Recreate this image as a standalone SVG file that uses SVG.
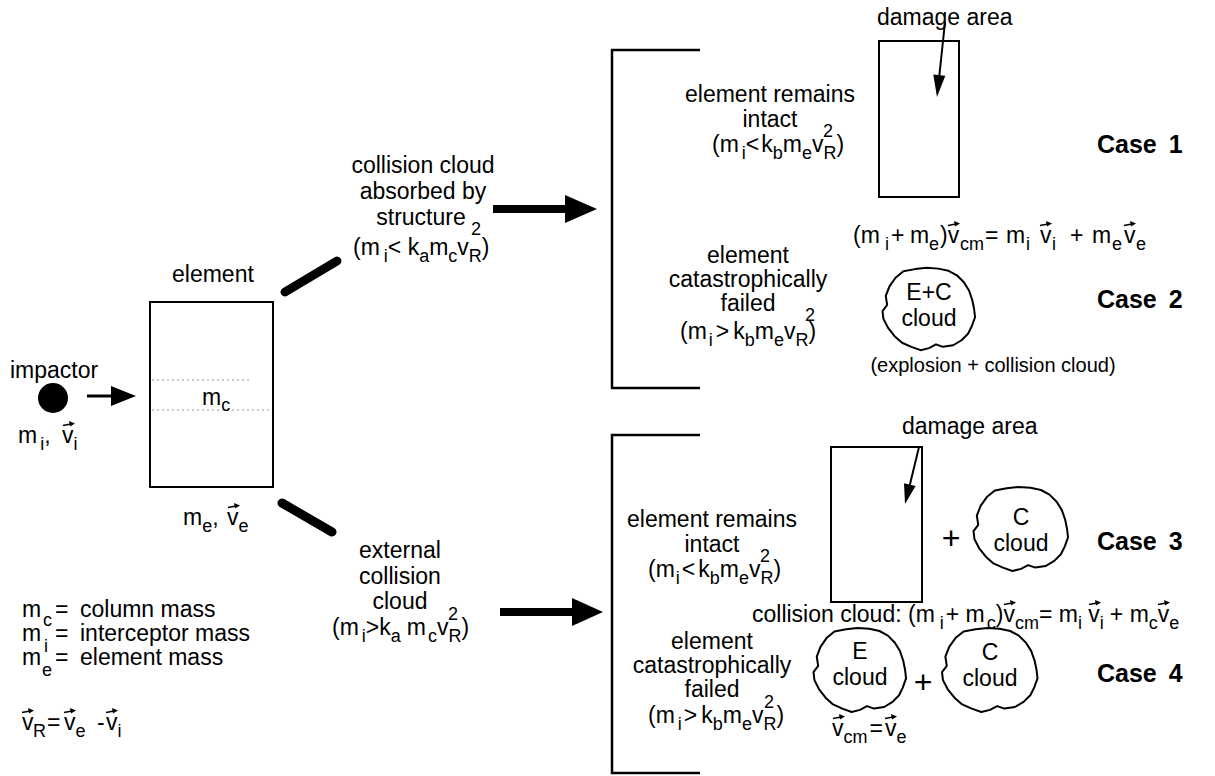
<svg xmlns="http://www.w3.org/2000/svg" xmlns:xlink="http://www.w3.org/1999/xlink" width="1215" height="776" viewBox="0 0 1215 776">
<style>
.t{font-family:"Liberation Sans",Arial,Helvetica,sans-serif;font-size:23px;fill:#000}
.c{text-anchor:middle}
.s{font-size:18px}
.b{font-weight:bold;font-size:25px;word-spacing:5px}
.sm{font-size:20px}
.pl{font-size:32px}
.ln{stroke:#000;stroke-width:2;fill:none}
.br{stroke:#000;stroke-width:2.5;fill:none}
.bar{stroke:#000;stroke-width:9;stroke-linecap:round}
.dot{stroke:#999;stroke-width:1;stroke-dasharray:2 3}
.cl{fill:none;stroke:#000;stroke-width:2;stroke-linejoin:round}
</style>
<defs>
<g id="vec"><path d="M0,0.5 L8,-1" stroke="#000" stroke-width="1.6" fill="none"/><path d="M6,-4 L12,-1.5 L7,1.5 Z" fill="#000"/></g>
<path id="cloud" class="cl" vector-effect="non-scaling-stroke" d="M-27.5,-38.6 L-15,-40.7 L-2.5,-42 L10,-41.2 L21,-39 L30,-34.4 L37.5,-27.3 L43,-18.9 L46.5,-9.2 L48.5,0 L49.5,8.4 L46,17.6 L42,25.2 L35,31.9 L26,37 L15,38.6 L7.5,36.1 L0,39.9 L-9,42 L-19,38.6 L-29,34.4 L-37,27.7 L-44,19.3 L-49,10.1 L-50,2.1 L-45,-4.2 L-46.5,-13.4 L-42.5,-23.1 L-36,-31.9 Z"/>
</defs>
<rect width="1215" height="776" fill="#fff"/>

<g id="connectors">
<line class="bar" x1="285" y1="292" x2="337" y2="261"/>
<line class="bar" x1="282" y1="503" x2="332" y2="532"/>
<line x1="87" y1="396" x2="113" y2="396" stroke="#000" stroke-width="3"/>
<path d="M111,386 L136,396 L111,406 Z" fill="#000"/>
<line x1="493" y1="209" x2="567" y2="209" stroke="#000" stroke-width="8"/>
<path d="M565,195 L597,209 L565,223 Z" fill="#000"/>
<line x1="500" y1="612" x2="574" y2="612" stroke="#000" stroke-width="8"/>
<path d="M572,598 L603,612 L572,626 Z" fill="#000"/>
</g>

<g id="impactor">
<text class="t" x="10" y="378">impactor</text>
<circle cx="53" cy="398" r="15" fill="#000"/>
<text class="t" x="18" y="443">m<tspan class="s" dx="3" dy="7">i</tspan><tspan dy="-7">,</tspan><tspan x="62">v</tspan><tspan class="s" dy="7">i</tspan></text>
<use xlink:href="#vec" x="63" y="425"/>
</g>

<g id="element">
<text class="t" x="172" y="282">element</text>
<rect class="ln" x="150" y="302" width="123" height="185"/>
<line class="dot" x1="152" y1="380" x2="250" y2="380"/>
<line class="dot" x1="152" y1="410" x2="271" y2="410"/>
<text class="t" x="202" y="405">m<tspan class="s" dy="6">c</tspan></text>
<text class="t" x="183" y="525">m<tspan class="s" dy="7">e</tspan><tspan dy="-7">,</tspan><tspan x="227">v</tspan><tspan class="s" dy="7">e</tspan></text>
<use xlink:href="#vec" x="228" y="507"/>
</g>

<g id="legend">
<text class="t" x="22" y="617">m<tspan class="s" x="43" dy="9">c</tspan><tspan x="55" dy="-9">=</tspan><tspan x="80">column mass</tspan></text>
<text class="t" x="22" y="641">m<tspan class="s" x="44" dy="11">i</tspan><tspan x="55" dy="-11">=</tspan><tspan x="80">interceptor mass</tspan></text>
<text class="t" x="22" y="665">m<tspan class="s" x="42" dy="11">e</tspan><tspan x="55" dy="-11">=</tspan><tspan x="80">element mass</tspan></text>
<text class="t" x="22" y="730">v<tspan class="s" x="33" dy="7">R</tspan><tspan x="47" dy="-7">=</tspan><tspan x="64">v</tspan><tspan class="s" dy="7">e</tspan><tspan x="97" dy="-7">-</tspan><tspan x="106">v</tspan><tspan class="s" dy="7">i</tspan></text>
<use xlink:href="#vec" x="22" y="712"/>
<use xlink:href="#vec" x="64" y="712"/>
<use xlink:href="#vec" x="106" y="712"/>
</g>

<g id="branch-absorbed">
<text class="t c" x="423" y="173">collision cloud</text>
<text class="t c" x="423" y="199">absorbed by</text>
<text class="t c" x="421" y="225">structure</text>
<text class="t s" x="471" y="235">2</text>
<text class="t" x="353" y="255">(m<tspan class="s" dx="4" dy="7">i</tspan><tspan dy="-7">&lt; k</tspan><tspan class="s" dy="7">a</tspan><tspan dy="-7">m</tspan><tspan class="s" dy="7">c</tspan><tspan dy="-7">v</tspan><tspan class="s" dy="7">R</tspan><tspan dy="-7">)</tspan></text>
</g>

<g id="branch-external">
<text class="t c" x="400" y="558">external</text>
<text class="t c" x="400" y="584">collision</text>
<text class="t c" x="400" y="609">cloud</text>
<text class="t s" x="448" y="620">2</text>
<text class="t" x="332" y="635">(m<tspan class="s" dx="3" dy="7">i</tspan><tspan dy="-7">&gt;k</tspan><tspan class="s" dy="7">a</tspan><tspan dx="6" dy="-7">m</tspan><tspan class="s" dx="2" dy="7">c</tspan><tspan dy="-7">v</tspan><tspan class="s" dy="7">R</tspan><tspan dy="-7">)</tspan></text>
</g>

<g id="bracket-upper">
<path class="br" d="M700,50 H612 V388 H700"/>
</g>
<g id="bracket-lower">
<path class="br" d="M700,435 H612 V773 H700"/>
</g>

<g id="case1">
<text class="t" x="877" y="25">damage area</text>
<rect class="ln" x="879" y="41" width="80" height="156"/>
<line x1="945" y1="22" x2="939.3" y2="76" stroke="#000" stroke-width="2"/>
<path d="M945.3,75.7 L937,97 L933.3,74.5 Z" fill="#000"/>
<text class="t c" x="770" y="102">element remains</text>
<text class="t c" x="770" y="127">intact</text>
<text class="t s" x="823" y="137">2</text>
<text class="t" x="712" y="152">(m<tspan class="s" dx="3" dy="7">i</tspan><tspan dy="-7">&lt;</tspan><tspan dx="2">k</tspan><tspan class="s" dy="7">b</tspan><tspan dy="-7">m</tspan><tspan class="s" dy="7">e</tspan><tspan dy="-7">v</tspan><tspan class="s" dy="7">R</tspan><tspan dy="-7">)</tspan></text>
<text class="t b" x="1097" y="153">Case 1</text>
</g>

<g id="case2">
<text class="t" y="243"><tspan x="853">(m</tspan><tspan class="s" x="885" dy="7">i</tspan><tspan x="891" dy="-7">+</tspan><tspan x="910">m</tspan><tspan class="s" x="929" dy="7">e</tspan><tspan x="940" dy="-7">)v</tspan><tspan class="s" x="960" dy="7">cm</tspan><tspan x="985" dy="-7">=</tspan><tspan x="1006">m</tspan><tspan class="s" x="1026" dy="7">i</tspan><tspan x="1040" dy="-7">v</tspan><tspan class="s" x="1052" dy="7">i</tspan><tspan x="1070" dy="-7">+</tspan><tspan x="1092">m</tspan><tspan class="s" x="1112" dy="7">e</tspan><tspan x="1124" dy="-7">v</tspan><tspan class="s" x="1136" dy="7">e</tspan></text>
<use xlink:href="#vec" x="948" y="225"/>
<use xlink:href="#vec" x="1040" y="225"/>
<use xlink:href="#vec" x="1124" y="225"/>
<text class="t c" x="748" y="263">element</text>
<text class="t c" x="748" y="287">catastrophically</text>
<text class="t c" x="748" y="311">failed</text>
<text class="t s" x="805" y="321">2</text>
<text class="t" x="680" y="339">(m<tspan class="s" dx="2" dy="7">i</tspan><tspan dx="3" dy="-7">&gt;</tspan><tspan dx="4">k</tspan><tspan class="s" dy="7">b</tspan><tspan dy="-7">m</tspan><tspan class="s" dy="7">e</tspan><tspan dy="-7">v</tspan><tspan class="s" dy="7">R</tspan><tspan dy="-7">)</tspan></text>
<use xlink:href="#cloud" transform="translate(929,309) scale(0.93,0.98)"/>
<text class="t c" x="929" y="300">E+C</text>
<text class="t c" x="929" y="326">cloud</text>
<text class="t sm c" x="993" y="372">(explosion + collision cloud)</text>
<text class="t b" x="1097" y="308">Case 2</text>
</g>

<g id="case3">
<text class="t" x="902" y="434">damage area</text>
<rect class="ln" x="831" y="447" width="91" height="155"/>
<line x1="919" y1="447" x2="909.8" y2="485" stroke="#000" stroke-width="2"/>
<path d="M915.6,486 L905,504 L904,483.2 Z" fill="#000"/>
<text class="t c" x="712" y="527">element remains</text>
<text class="t c" x="712" y="552">intact</text>
<text class="t s" x="760" y="562">2</text>
<text class="t" x="648" y="577">(m<tspan class="s" dx="1" dy="7">i</tspan><tspan dx="2" dy="-7">&lt;</tspan><tspan dx="3">k</tspan><tspan class="s" dy="7">b</tspan><tspan dy="-7">m</tspan><tspan class="s" dy="7">e</tspan><tspan dy="-7">v</tspan><tspan class="s" dy="7">R</tspan><tspan dy="-7">)</tspan></text>
<text class="t c pl" x="951" y="549">+</text>
<use xlink:href="#cloud" transform="translate(1021,529) scale(0.95,1)"/>
<text class="t c" x="1021" y="525">C</text>
<text class="t c" x="1021" y="551">cloud</text>
<text class="t b" x="1097" y="550">Case 3</text>
</g>

<g id="collision-eq">
<text class="t" x="752" y="622">collision cloud: (m<tspan class="s" dx="5" dy="7">i</tspan><tspan dx="2" dy="-7">+ m</tspan><tspan class="s" dx="2" dy="7">c</tspan><tspan dy="-7">)v</tspan><tspan class="s" dy="7">cm</tspan><tspan dy="-7">= m</tspan><tspan class="s" dy="7">i</tspan><tspan dy="-7"> v</tspan><tspan class="s" dy="7">i</tspan><tspan dx="6" dy="-7">+ m</tspan><tspan class="s" dy="7">c</tspan><tspan dy="-7">v</tspan><tspan class="s" dy="7">e</tspan></text>
<use xlink:href="#vec" x="1004" y="604"/>
<use xlink:href="#vec" x="1089" y="604"/>
<use xlink:href="#vec" x="1158" y="604"/>
</g>

<g id="case4">
<text class="t c" x="712" y="649">element</text>
<text class="t c" x="712" y="673">catastrophically</text>
<text class="t c" x="712" y="697">failed</text>
<text class="t s" x="764" y="708">2</text>
<text class="t" x="648" y="723">(m<tspan class="s" dx="3" dy="7">i</tspan><tspan dx="2" dy="-7">&gt;</tspan><tspan dx="4">k</tspan><tspan class="s" dy="7">b</tspan><tspan dy="-7">m</tspan><tspan class="s" dy="7">e</tspan><tspan dy="-7">v</tspan><tspan class="s" dy="7">R</tspan><tspan dy="-7">)</tspan></text>
<use xlink:href="#cloud" transform="translate(860,670) scale(0.93,1)"/>
<text class="t c" x="860" y="659">E</text>
<text class="t c" x="860" y="685">cloud</text>
<text class="t" x="832" y="736">v<tspan class="s" dy="7">cm</tspan><tspan dx="2" dy="-7">=</tspan><tspan dx="2">v</tspan><tspan class="s" dy="7">e</tspan></text>
<use xlink:href="#vec" x="833" y="718"/>
<use xlink:href="#vec" x="885" y="718"/>
<text class="t c pl" x="923" y="693">+</text>
<use xlink:href="#cloud" transform="translate(990,670) scale(0.96,1)"/>
<text class="t c" x="990" y="660">C</text>
<text class="t c" x="990" y="686">cloud</text>
<text class="t b" x="1097" y="682">Case 4</text>
</g>
</svg>
